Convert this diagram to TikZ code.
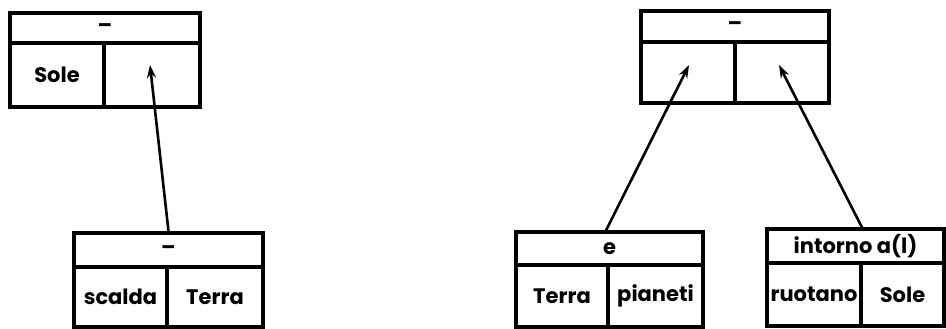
\documentclass[tikz,border=0pt]{standalone}
\usepackage{fontspec}
\setmainfont{Poppins}
\usetikzlibrary{arrows.meta}
\begin{document}
\begin{tikzpicture}[x=1pt,y=-1pt,
  cell/.style={draw, line width=3.2pt, inner sep=0pt, font=\fontsize{21}{24}\selectfont\bfseries},
  link/.style={line width=2.6pt, -{Stealth[length=13pt,width=9pt]}}]
\useasboundingbox (0,0) rectangle (946,329);
% box 1
\node[cell, minimum width=190pt, minimum height=30pt] (b1h) at (105,28) {–};
\node[cell, minimum width=94pt, minimum height=64pt] (b1l) at (57,75) {Sole};
\node[cell, minimum width=96pt, minimum height=64pt] (b1r) at (152,75) {};
% box 2
\node[cell, minimum width=189pt, minimum height=34pt] (b2h) at (168.5,250) {–};
\node[cell, minimum width=93pt, minimum height=60pt] (b2l) at (120.5,297) {scalda};
\node[cell, minimum width=96pt, minimum height=60pt] (b2r) at (215,297) {Terra};
% box 3
\node[cell, minimum width=188pt, minimum height=31pt] (b3h) at (735,26.5) {–};
\node[cell, minimum width=94pt, minimum height=61pt] (b3l) at (688,72.5) {};
\node[cell, minimum width=94pt, minimum height=61pt] (b3r) at (782,72.5) {};
% box 4
\node[cell, minimum width=187pt, minimum height=33pt] (b4h) at (609.5,248.5) {e};
\node[cell, minimum width=92pt, minimum height=62pt] (b4l) at (562,296) {Terra};
\node[cell, minimum width=95pt, minimum height=62pt] (b4r) at (655.5,296) {pianeti};
% box 5
\node[cell, minimum width=177pt, minimum height=34pt] (b5h) at (855.5,246) {intorno a(l)};
\node[cell, minimum width=94pt, minimum height=63pt] (b5l) at (814,294.5) {ruotano};
\node[cell, minimum width=83pt, minimum height=63pt] (b5r) at (902.5,294.5) {Sole};
% arrow targets
\coordinate (t1) at (150,65);
\coordinate (t3) at (689,65);
\coordinate (t4) at (779,65);
\draw[link] (b2h.north) -- (t1);
\draw[link] ([xshift=-3.5pt]b4h.north) -- (t3);
\draw[link] ([xshift=6.5pt]b5h.north) -- (t4);
\end{tikzpicture}
\end{document}
